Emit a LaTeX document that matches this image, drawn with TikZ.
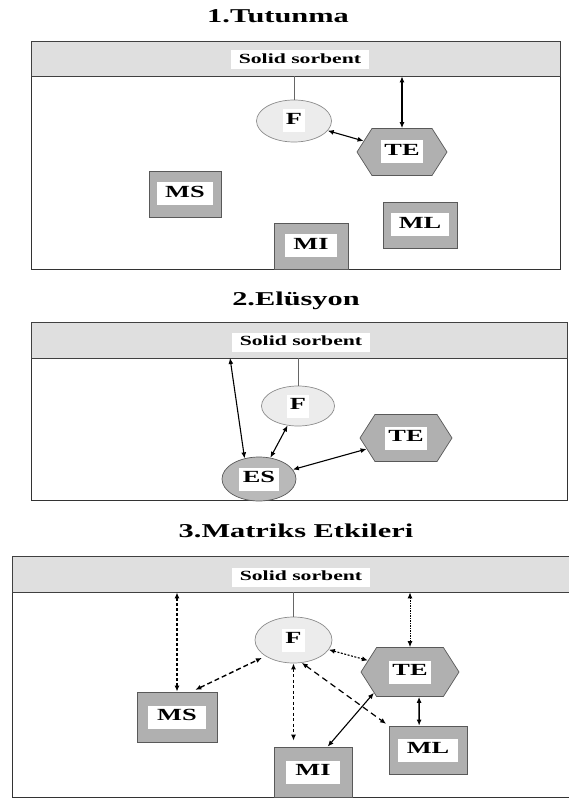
\documentclass[tikz,border=0pt]{standalone}
\usepackage{fontspec}
\setmainfont{Liberation Serif}[FakeStretch=1.55]
\usetikzlibrary{shapes.geometric,shapes.symbols,arrows.meta}
\newcommand{\lblfont}{\fontsize{17}{19}\selectfont\bfseries}
\newcommand{\wl}[2][1pt]{{\setlength{\fboxsep}{2pt}\colorbox{white}{\hspace{#1}\strut#2\hspace{#1}}}}
\tikzset{
  panelframe/.style={draw=black!80, line width=0.9pt},
  sorbbar/.style={draw=black!75, fill=gray!25, line width=0.8pt, inner sep=0pt},
  sorbent/.style={fill=white, font=\fontsize{14}{16}\selectfont\bfseries,
    inner xsep=8pt, inner ysep=3pt, text height=10pt, text depth=3pt},
  paneltitle/.style={font=\fontsize{19.6}{22}\selectfont\bfseries, anchor=base, inner sep=0pt},
  fnode/.style={ellipse, draw=gray!90, fill=gray!15, line width=0.7pt, inner sep=0pt, font=\lblfont},
  esnode/.style={ellipse, draw=gray!70!black, fill=gray!55, line width=0.7pt, inner sep=0pt, font=\lblfont},
  tenode/.style={signal, signal to=east and west, signal pointer angle=115,
    draw=gray!70!black, fill=gray!62, line width=0.7pt, inner sep=0pt, font=\lblfont},
  mbox/.style={rectangle, draw=gray!70!black, fill=gray!62, line width=0.8pt, inner sep=0pt, font=\lblfont},
  link/.style={<->, line width=1.1pt},
  >={Latex[length=6pt,width=5pt]}
}
\begin{document}
\begin{tikzpicture}[x=1pt,y=-1pt]
  \useasboundingbox (0,0) rectangle (569,799);

  % 1.Tutunma
  \node[paneltitle] (t1) at (278,23) {1.Tutunma};
  \draw[panelframe] (31,41) rectangle (560,269);
  \node[sorbbar, minimum width=529pt, minimum height=35pt] (bar1) at (295.5,58.5) {};
  \node[sorbent] (sb1) at (300,60) {Solid sorbent};
  \node[fnode, minimum width=75pt, minimum height=42pt] (f1) at (294,121) {\wl{F}};
  \node[tenode, minimum width=90pt, minimum height=47pt] (te1) at (402,152) {\wl{TE}};
  \node[mbox, minimum width=72pt, minimum height=46pt] (ms1) at (185,194) {\wl[6pt]{MS}};
  \node[mbox, minimum width=74pt, minimum height=46pt] (mi1) at (311,246) {\wl[6pt]{MI}};
  \node[mbox, minimum width=74pt, minimum height=46pt] (ml1) at (420,225) {\wl[6pt]{ML}};
  \draw[gray!80!black, line width=0.8pt] (f1.north) -- (f1.north |- bar1.south);
  \draw[link] (te1.north |- bar1.south) -- (te1.north);
  \draw[link] (f1) -- (te1);

  % 2.Elusyon
  \node[paneltitle] (t2) at (296,305) {2.Elüsyon};
  \draw[panelframe] (31,322) rectangle (567,500);
  \node[sorbbar, minimum width=536pt, minimum height=36pt] (bar2) at (299,340) {};
  \node[sorbent] (sb2) at (301,342) {Solid sorbent};
  \node[fnode, minimum width=73pt, minimum height=40pt] (f2) at (298,406) {\wl{F}};
  \node[tenode, minimum width=92pt, minimum height=47pt] (te2) at (406,438) {\wl{TE}};
  \node[esnode, minimum width=74pt, minimum height=44pt] (es2) at (259,479) {\wl[2pt]{ES}};
  \coordinate (b2) at (230,358);
  \draw[gray!80!black, line width=0.8pt] (f2.north) -- (f2.north |- bar2.south);
  \draw[link] (b2) -- (es2.125);
  \draw[link] (f2) -- (es2);
  \draw[link] (es2) -- (te2);

  % 3.Matriks Etkileri
  \node[paneltitle] (t3) at (296,537) {3.Matriks Etkileri};
  \draw[panelframe] (12,556) rectangle (571,797);
  \node[sorbbar, minimum width=559pt, minimum height=36pt] (bar3) at (291.5,574) {};
  \node[sorbent] (sb3) at (301,577) {Solid sorbent};
  \node[fnode, minimum width=77pt, minimum height=46pt] (f3) at (293.5,640) {\wl{F}};
  \node[tenode, minimum width=98pt, minimum height=49pt] (te3) at (410,672) {\wl{TE}};
  \node[mbox, minimum width=80pt, minimum height=50pt] (ms3) at (177,717) {\wl[7pt]{MS}};
  \node[mbox, minimum width=78pt, minimum height=50pt] (mi3) at (313,772) {\wl[7pt]{MI}};
  \node[mbox, minimum width=78pt, minimum height=48pt] (ml3) at (428,750) {\wl[7pt]{ML}};
  \draw[gray!80!black, line width=0.8pt] (f3.north) -- (f3.north |- bar3.south);
  \draw[link, line width=1.6pt, dash pattern=on 3pt off 2pt] (ms3.north |- bar3.south) -- (ms3.north);
  \draw[link, line width=1pt, dash pattern=on 1.5pt off 1pt] (te3.north |- bar3.south) -- (te3.north);
  \draw[link, line width=1.4pt, dash pattern=on 5pt off 3pt, shorten <=4pt, shorten >=4pt] (ms3.60) -- (f3.210);
  \draw[link, line width=1.1pt, dash pattern=on 2pt off 1.5pt] (f3) -- (te3);
  \draw[link, line width=1.5pt, dash pattern=on 3pt off 2.5pt, shorten >=6pt] (f3.south) -- (f3.south |- mi3.north);
  \draw[link, line width=1.2pt, dash pattern=on 6pt off 4pt, shorten >=3pt] (f3.290) -- (ml3.north west);
  \draw[link] (te3.210) -- (mi3.60);
  \draw[link, line width=1.5pt] (te3.290) -- (ml3.110);
\end{tikzpicture}
\end{document}
